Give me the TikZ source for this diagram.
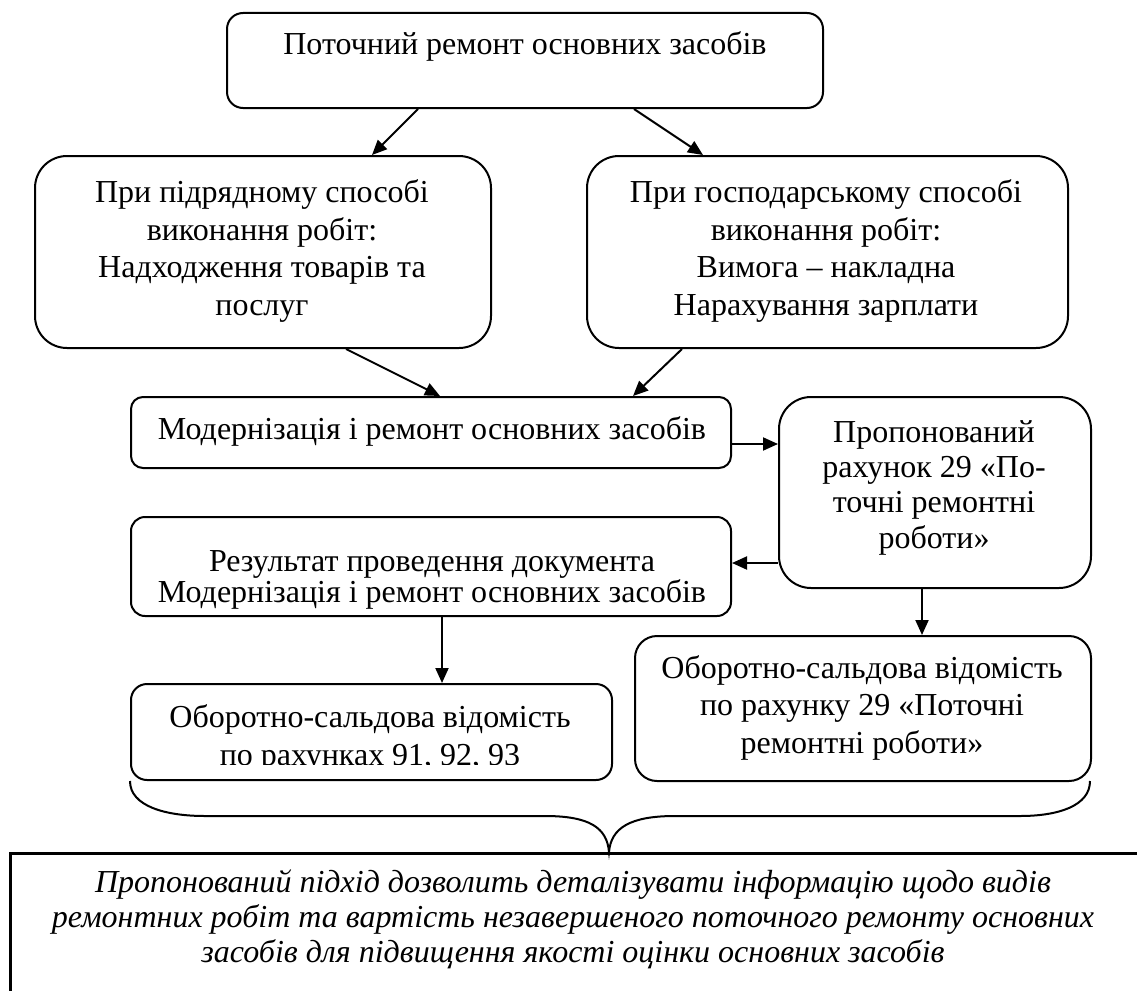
\documentclass[tikz,border=0pt]{standalone}
\usepackage{fontspec}
\setmainfont{Liberation Serif}
\usetikzlibrary{arrows.meta}
\begin{document}
\begin{tikzpicture}[x=1pt,y=-1pt,
  box/.style={draw, line width=2pt, inner sep=0pt, anchor=north west},
  txt/.style={align=center, inner sep=0pt, anchor=base, font=\fontsize{32}{37.5}\selectfont},
  arr/.style={line width=2pt, -{Triangle[length=15pt,width=13pt]}},
  brace/.style={line width=2pt}
]
\useasboundingbox (0,0) rectangle (1137,990);
\clip (0,0) rectangle (1137,990);

% boxes
\node[box, rounded corners=16pt, minimum width=596pt, minimum height=95pt] (top) at (226,12) {};
\node[box, rounded corners=32pt, minimum width=456pt, minimum height=192pt] (left2) at (34,155) {};
\node[box, rounded corners=32pt, minimum width=481pt, minimum height=192pt] (right2) at (586,155) {};
\node[box, rounded corners=12pt, minimum width=600pt, minimum height=71pt] (mod) at (130,396) {};
\node[box, rounded corners=32pt, minimum width=312pt, minimum height=191pt] (prop) at (778,396) {};
\node[box, rounded corners=14pt, minimum width=600pt, minimum height=99pt] (rez) at (130,516) {};
\node[box, rounded corners=16pt, minimum width=481pt, minimum height=96pt] (lob) at (130,683) {};
\node[box, rounded corners=22pt, minimum width=456pt, minimum height=145pt] (rob) at (634,635) {};
\node[draw, line width=3pt, inner sep=0pt, anchor=north west, minimum width=1200pt, minimum height=200pt] (concl) at (9,852) {};

% texts (anchor base = baseline of the last line)
\node[txt] (ttop) at (525,55) {Поточний ремонт основних засобів};
\node[txt] (tleft2) at (262,315) {При підрядному способі\\виконання робіт:\\Надходження товарів та\\послуг};
\node[txt] (tright2) at (826,315) {При господарському способі\\виконання робіт:\\Вимога – накладна\\Нарахування зарплати};
\node[txt] (tmod) at (432,439) {Модернізація і ремонт основних засобів};
\node[txt, font=\fontsize{32}{35.3}\selectfont] (tprop) at (934,548) {Пропонований\\рахунок 29 «По-\\точні ремонтні\\роботи»};
\node[txt, font=\fontsize{32}{31}\selectfont] (trez) at (432,602) {Результат проведення документа\\Модернізація і ремонт основних засобів};
\begin{scope}
\clip (130,683) rectangle (611,764);
\node[txt, font=\fontsize{32}{38}\selectfont] (tlob) at (370,765) {Оборотно-сальдова відомість\\по рахунках 91, 92, 93};
\end{scope}
\node[txt, font=\fontsize{32}{37.5}\selectfont] (trob) at (862,753) {Оборотно-сальдова відомість\\по рахунку 29 «Поточні\\ремонтні роботи»};
\node[txt, font=\fontsize{32}{35}\selectfont\itshape] (tconcl) at (573,962) {Пропонований підхід дозволить деталізувати інформацію щодо видів\\ремонтних робіт та вартість незавершеного поточного ремонту основних\\засобів для підвищення якості оцінки основних засобів};

% arrows
\draw[arr] (top.south -| 418,0) -- (left2.north -| 372,0);
\draw[arr] (top.south -| 634,0) -- (right2.north -| 703,0);
\draw[arr] (left2.south -| 346,0) -- (mod.north -| 440,0);
\draw[arr] (right2.south -| 682,0) -- (mod.north -| 633,0);
\draw[arr] (mod.east |- 0,444) -- (prop.west |- 0,444);
\draw[arr] (prop.west |- 0,563) -- (rez.east |- 0,563);
\draw[arr] (rez.south -| 442,0) -- (lob.north -| 442,0);
\draw[arr] (prop.south -| 922,0) -- (rob.north -| 922,0);

% brace
\coordinate (bl) at (130,781);
\coordinate (br) at (1090,781);
\coordinate (btip) at (609,852);
\draw[brace] (bl) .. controls (130,806) and (165,816) .. (205,816) -- (545,816)
  .. controls (590,816) and (607,828) .. (btip)
  .. controls (611,828) and (630,816) .. (675,816) -- (1020,816)
  .. controls (1058,816) and (1090,806) .. (br);
\end{tikzpicture}
\end{document}
